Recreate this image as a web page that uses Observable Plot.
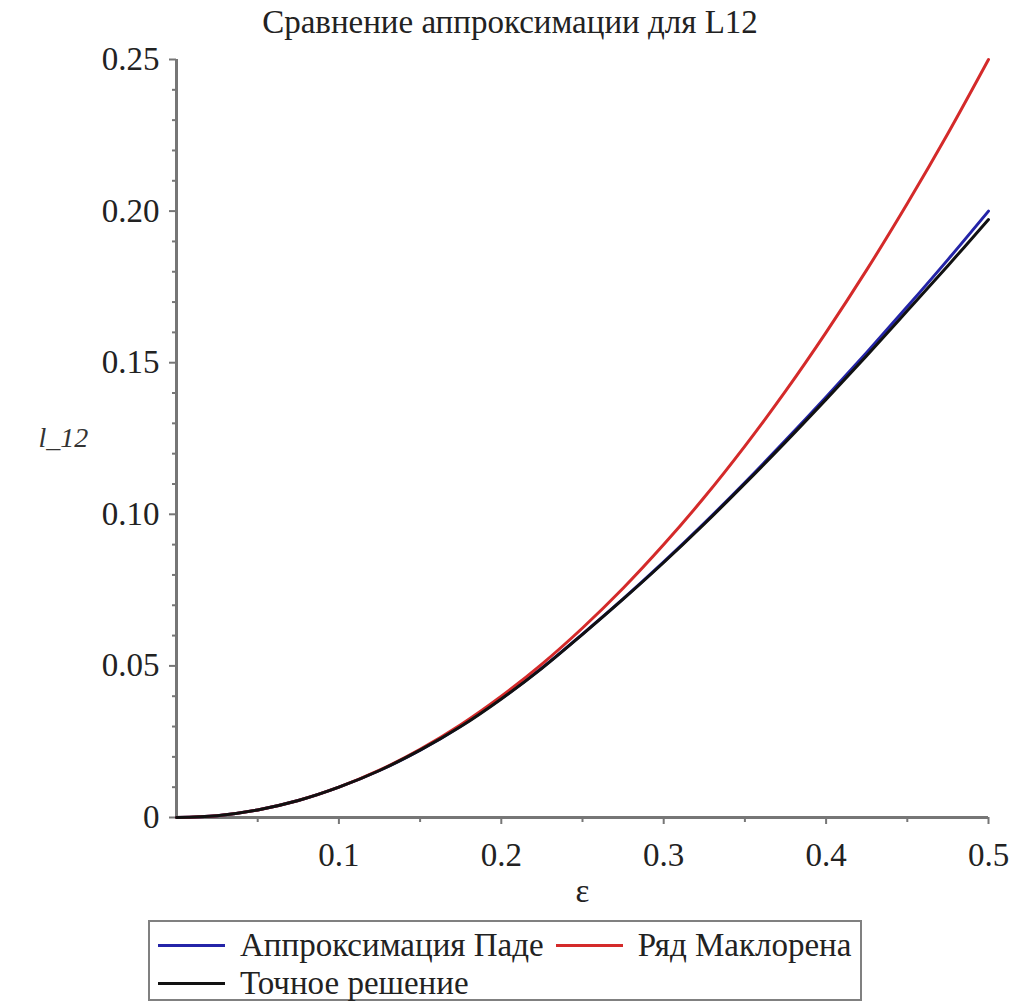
<!DOCTYPE html>
<html>
<head>
<meta charset="utf-8">
<script src="https://cdn.jsdelivr.net/npm/d3@7"></script>
<script src="https://cdn.jsdelivr.net/npm/@observablehq/plot@0.6"></script>
<style>
  html, body { margin: 0; padding: 0; background: #fff; }
  #wrap { position: relative; width: 1015px; height: 1001px; overflow: hidden;
          font-family: "Liberation Serif", "Times New Roman", Tinos, "DejaVu Serif", serif; color: #222; }
  #title { position: absolute; top: 0; left: 0; width: 1020px; height: 44px; line-height: 44px; text-align: center; font-size: 33px; }
  #chart { position: absolute; top: 40px; left: 0; }
  #legend { position: absolute; top: 920px; left: 148px; width: 714px; height: 81px; border: 2px solid #808080; box-sizing: border-box; }
  .row { position: absolute; left: 8px; display: flex; align-items: center; white-space: nowrap; font-size: 33px; line-height: 38px; }
  .item { display: flex; align-items: center; margin-right: 12px; }
  .sw { display: inline-block; width: 67px; height: 3px; margin-right: 15px; }
</style>
</head>
<body>
<div id="wrap">
  <div id="title">Сравнение аппроксимации для L12</div>
  <div id="chart"></div>
  <div id="legend"></div>
</div>
<script>
// epsilon values
const eps = [0, 0.025, 0.05, 0.075, 0.1, 0.125, 0.15, 0.175, 0.2, 0.225, 0.25,
             0.275, 0.3, 0.325, 0.35, 0.375, 0.4, 0.425, 0.45, 0.475, 0.5];
// Padé approximation
const pade = [0, 0.0006, 0.0025, 0.0056, 0.0100, 0.0155, 0.0222, 0.0301, 0.0392, 0.0493, 0.0605,
              0.0721, 0.0843, 0.0971, 0.1105, 0.1244, 0.1387, 0.1534, 0.1685, 0.1840, 0.2000];
// Maclaurin series
const maclaurin = [0, 0.0006, 0.0025, 0.0056, 0.0100, 0.0156, 0.0225, 0.0306, 0.0400, 0.0506, 0.0625,
                   0.0756, 0.0900, 0.1056, 0.1225, 0.1406, 0.1600, 0.1806, 0.2025, 0.2256, 0.2500];
// Exact solution
const exact = [0, 0.0006, 0.0025, 0.0056, 0.0100, 0.0155, 0.0222, 0.0300, 0.0391, 0.0492, 0.0604,
               0.0720, 0.0841, 0.0968, 0.1101, 0.1238, 0.1379, 0.1523, 0.1671, 0.1820, 0.1972];

const seriesNames = ["Аппроксимация Паде", "Ряд Маклорена", "Точное решение"];
const seriesColors = ["#2424a8", "#d42a2a", "#111111"];

const xMajor = [0.1, 0.2, 0.3, 0.4, 0.5];
const xMinor = [0.05, 0.15, 0.25, 0.35, 0.45];
const yMajor = [0, 0.05, 0.10, 0.15, 0.20, 0.25];
const yMinor = [0.01, 0.02, 0.03, 0.04, 0.06, 0.07, 0.08, 0.09, 0.11, 0.12, 0.13, 0.14,
                0.16, 0.17, 0.18, 0.19, 0.21, 0.22, 0.23, 0.24];

const toRows = (vals, k) => eps.map((e, i) => ({e, v: vals[i], s: seriesNames[k]}));
const rowsPade = toRows(pade, 0), rowsMac = toRows(maclaurin, 1), rowsExact = toRows(exact, 2);

const axisColor = "#767676";
const fontStack = '"Liberation Serif", "Times New Roman", Tinos, "DejaVu Serif", serif';

const chart = Plot.plot({
  width: 1015,
  height: 880,
  marginLeft: 176,
  marginRight: 27,
  marginTop: 19,
  marginBottom: 103,
  style: {fontFamily: fontStack, fontSize: "33px", color: "#222", background: "white"},
  x: {domain: [0, 0.5], label: null},
  y: {domain: [0, 0.25], label: null},
  marks: [
    Plot.axisY(yMinor, {tickSize: 4, text: null, label: null, stroke: axisColor, strokeWidth: 2}),
    Plot.axisY(yMajor, {tickSize: 7, tickPadding: 10, strokeWidth: 2, stroke: axisColor,
      tickFormat: d => d === 0 ? "0" : d.toFixed(2), label: null, fill: "#222"}),
    Plot.axisX(xMinor, {tickSize: 5, text: null, label: null, stroke: axisColor, strokeWidth: 2}),
    Plot.axisX(xMajor, {tickSize: 7, tickPadding: 18, strokeWidth: 2, stroke: axisColor,
      tickFormat: d => d.toFixed(1), label: null, fill: "#222"}),
    Plot.ruleX([0], {y1: 0, y2: 0.25, stroke: axisColor, strokeWidth: 3}),
    Plot.ruleY([0], {x1: 0, x2: 0.5, stroke: axisColor, strokeWidth: 3}),
    Plot.line(rowsPade, {x: "e", y: "v", stroke: seriesColors[0], strokeWidth: 3, curve: "catmull-rom"}),
    Plot.line(rowsMac, {x: "e", y: "v", stroke: seriesColors[1], strokeWidth: 3, curve: "catmull-rom"}),
    Plot.line(rowsExact, {x: "e", y: "v", stroke: seriesColors[2], strokeWidth: 3, curve: "catmull-rom"}),
    Plot.text(["l_12"], {frameAnchor: "left", dx: -138, textAnchor: "start", fontStyle: "italic", fill: "#333", fontSize: 28}),
    Plot.text(["ε"], {frameAnchor: "bottom", dy: 84, fill: "#222", fontSize: 33})
  ]
});
document.getElementById("chart").appendChild(chart);

// legend
const legend = document.getElementById("legend");
const rows = [[0, 1], [2]];
const rowTops = [4, 42];
rows.forEach((idxs, r) => {
  const row = document.createElement("div");
  row.className = "row";
  row.style.top = rowTops[r] + "px";
  idxs.forEach(i => {
    const it = document.createElement("span");
    it.className = "item";
    const sw = document.createElement("span");
    sw.className = "sw";
    sw.style.background = seriesColors[i];
    const tx = document.createElement("span");
    tx.textContent = seriesNames[i];
    it.appendChild(sw); it.appendChild(tx);
    row.appendChild(it);
  });
  legend.appendChild(row);
});
</script>
</body>
</html>
